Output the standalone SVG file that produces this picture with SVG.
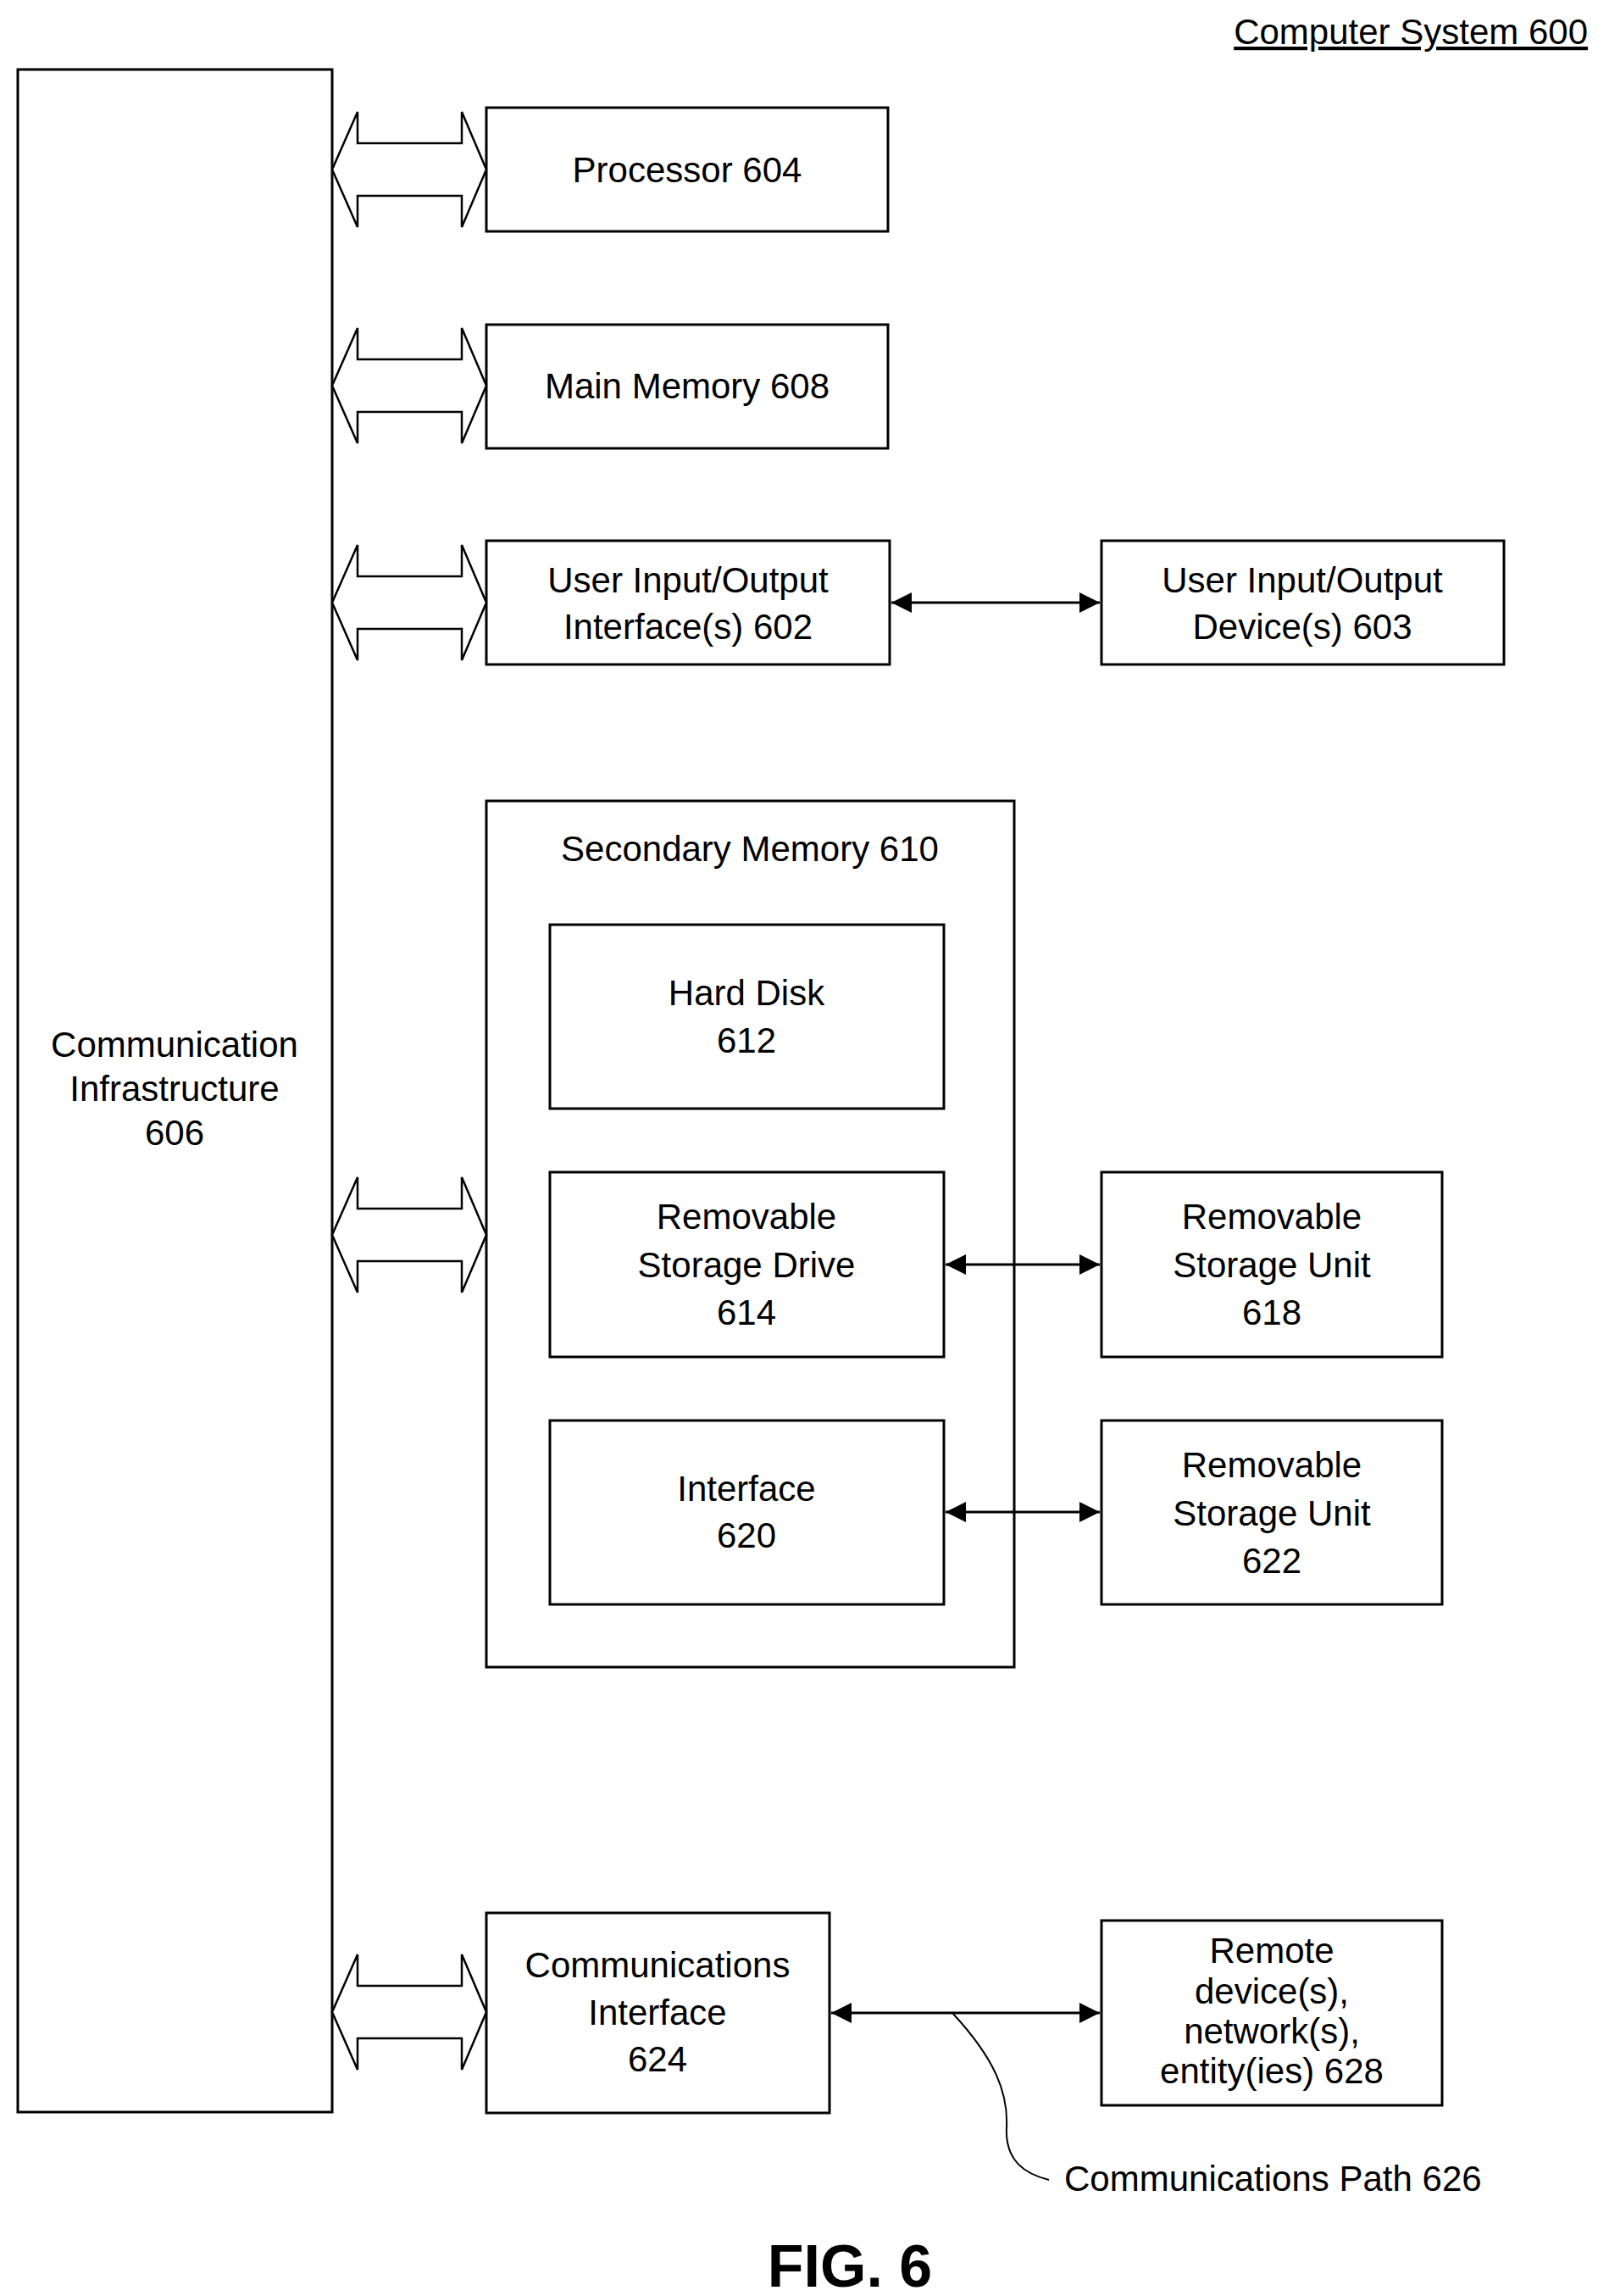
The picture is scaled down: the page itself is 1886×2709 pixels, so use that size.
<svg xmlns="http://www.w3.org/2000/svg" width="1886" height="2709" viewBox="0 0 1886 2709">
<style>
.b{fill:#fff;stroke:#000;stroke-width:3}
.t{font-family:"Liberation Sans",Arial,sans-serif;font-size:42px;text-anchor:middle;fill:#000}
.ba{fill:#fff;stroke:#000;stroke-width:2.5}
.c{stroke:#000;stroke-width:3;fill:none}
</style>
<defs>
<marker id="ah" viewBox="0 0 10 10" refX="10" refY="5" markerWidth="8" markerHeight="8" markerUnits="strokeWidth" orient="auto-start-reverse"><path d="M0,0L10,5L0,10z" fill="#000"/></marker>
<path id="bar" d="M392,0 L422,-68 L422,-31 L545,-31 L545,-68 L574,0 L545,68 L545,31 L422,31 L422,68 Z"/>
</defs>
<rect width="1886" height="2709" fill="#fff"/>
<text x="1874" y="52" class="t" style="text-anchor:end;text-decoration:underline">Computer System 600</text>
<g id="infra"><rect class="b" x="21" y="82" width="371" height="2410"/>
<text class="t" x="206"><tspan x="206" y="1247">Communication</tspan><tspan x="206" y="1299">Infrastructure</tspan><tspan x="206" y="1351">606</tspan></text></g>
<g id="proc"><rect class="b" x="574" y="127" width="474" height="146"/><text class="t" x="811" y="215">Processor 604</text></g>
<g id="mem"><rect class="b" x="574" y="383" width="474" height="146"/><text class="t" x="811" y="470">Main Memory 608</text></g>
<g id="uioi"><rect class="b" x="574" y="638" width="476" height="146"/><text class="t"><tspan x="812" y="699">User Input/Output</tspan><tspan x="812" y="754">Interface(s) 602</tspan></text></g>
<g id="uiod"><rect class="b" x="1300" y="638" width="475" height="146"/><text class="t"><tspan x="1537" y="699">User Input/Output</tspan><tspan x="1537" y="754">Device(s) 603</tspan></text></g>
<g id="sec"><rect class="b" x="574" y="945" width="623" height="1022"/><text class="t" x="885" y="1016">Secondary Memory 610</text></g>
<g id="hd"><rect class="b" x="649" y="1091" width="465" height="217"/><text class="t"><tspan x="881" y="1186">Hard Disk</tspan><tspan x="881" y="1242">612</tspan></text></g>
<g id="rsd"><rect class="b" x="649" y="1383" width="465" height="218"/><text class="t"><tspan x="881" y="1450">Removable</tspan><tspan x="881" y="1507">Storage Drive</tspan><tspan x="881" y="1563">614</tspan></text></g>
<g id="if"><rect class="b" x="649" y="1676" width="465" height="217"/><text class="t"><tspan x="881" y="1771">Interface</tspan><tspan x="881" y="1826">620</tspan></text></g>
<g id="rsu618"><rect class="b" x="1300" y="1383" width="402" height="218"/><text class="t"><tspan x="1501" y="1450">Removable</tspan><tspan x="1501" y="1507">Storage Unit</tspan><tspan x="1501" y="1563">618</tspan></text></g>
<g id="rsu622"><rect class="b" x="1300" y="1676" width="402" height="217"/><text class="t"><tspan x="1501" y="1743">Removable</tspan><tspan x="1501" y="1800">Storage Unit</tspan><tspan x="1501" y="1856">622</tspan></text></g>
<g id="ci"><rect class="b" x="574" y="2257" width="405" height="236"/><text class="t"><tspan x="776" y="2333">Communications</tspan><tspan x="776" y="2389">Interface</tspan><tspan x="776" y="2444">624</tspan></text></g>
<g id="rem"><rect class="b" x="1300" y="2266" width="402" height="218"/><text class="t"><tspan x="1501" y="2316">Remote</tspan><tspan x="1501" y="2364">device(s),</tspan><tspan x="1501" y="2411">network(s),</tspan><tspan x="1501" y="2458">entity(ies) 628</tspan></text></g>
<text class="t" x="1256" y="2585" style="text-anchor:start">Communications Path 626</text>
<text x="1003" y="2698" style="font-family:'Liberation Sans',Arial,sans-serif;font-size:70px;font-weight:bold;text-anchor:middle">FIG. 6</text>
<g id="connectors">
<use href="#bar" class="ba" y="200"/>
<use href="#bar" class="ba" y="455"/>
<use href="#bar" class="ba" y="711"/>
<use href="#bar" class="ba" y="1457"/>
<use href="#bar" class="ba" y="2374"/>
<line class="c" x1="1052" y1="711" x2="1298" y2="711" marker-start="url(#ah)" marker-end="url(#ah)"/>
<line class="c" x1="1116" y1="1492" x2="1298" y2="1492" marker-start="url(#ah)" marker-end="url(#ah)"/>
<line class="c" x1="1116" y1="1784" x2="1298" y2="1784" marker-start="url(#ah)" marker-end="url(#ah)"/>
<line class="c" x1="981" y1="2375" x2="1298" y2="2375" marker-start="url(#ah)" marker-end="url(#ah)"/>
<path d="M1124,2375 C1175,2430 1190,2470 1188,2510 C1186,2550 1210,2565 1238,2572" fill="none" stroke="#000" stroke-width="2"/>
</g>
</svg>
